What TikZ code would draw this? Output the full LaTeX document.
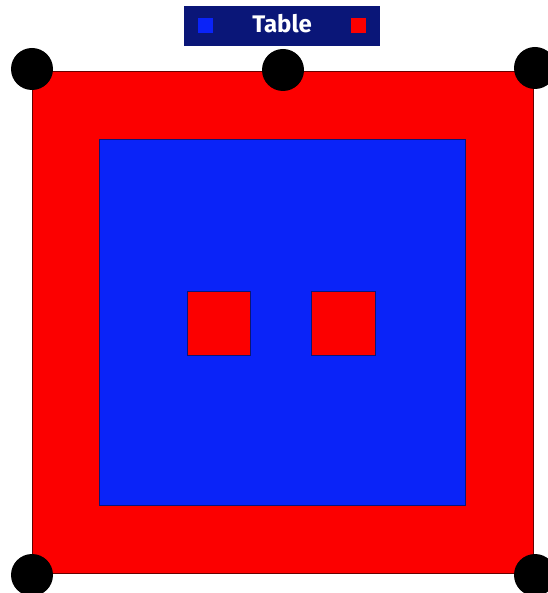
\documentclass[tikz,border=0pt]{standalone}
\usepackage{fontspec}
\setsansfont{Fira Sans}
\definecolor{navy}{RGB}{10,22,120}
\definecolor{tblue}{RGB}{10,35,248}
\definecolor{tred}{RGB}{252,0,0}
\tikzset{
  redsq/.style={fill=tred, draw=red!40!black, line width=1pt},
  bluesq/.style={fill=tblue, draw=navy, line width=1pt},
  dot/.style={circle, fill=black, inner sep=0pt, minimum size=42pt}
}
\begin{document}
\begin{tikzpicture}[x=1pt, y=-1pt]
\useasboundingbox (0,0) rectangle (547,593);
% table top and inner panel
\draw[redsq] (32,72) rectangle (533,573);
\draw[bluesq] (99,140) rectangle (465,505);
\draw[redsq, draw=navy] (187,291) rectangle (250,355);
\draw[redsq, draw=navy] (311,291) rectangle (375,355);
% legend
\node[fill=navy, minimum width=196pt, minimum height=40pt, inner sep=0pt] (legend) at (282,26) {};
\node[text=white, font=\sffamily\bfseries\fontsize{24}{27}\selectfont] (title) at (282,24) {Table};
\node[fill=tblue, minimum size=15pt, inner sep=0pt] (keyblue) at (205,26) {};
\node[fill=tred, minimum size=15pt, inner sep=0pt] (keyred) at (358,26) {};
% legs
\node[dot] (tl) at (32,69) {};
\node[dot] (tm) at (283,70) {};
\node[dot] (tr) at (535,68) {};
\node[dot] (bl) at (32,575) {};
\node[dot] (br) at (535,575) {};
\end{tikzpicture}
\end{document}
